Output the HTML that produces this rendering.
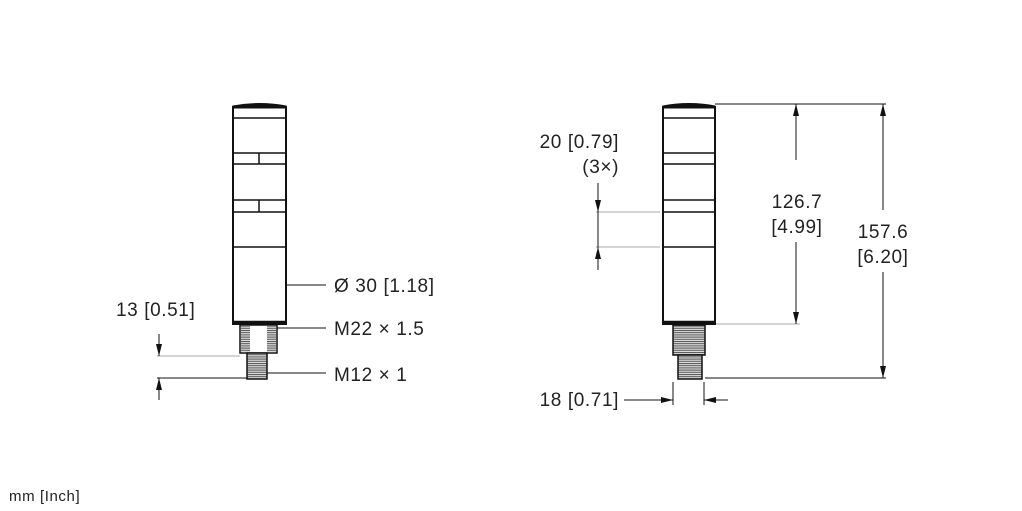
<!DOCTYPE html>
<html><head><meta charset="utf-8"><style>
html,body{margin:0;padding:0;background:#fff;}
svg{display:block;}
text{font-family:"Liberation Sans",sans-serif;fill:#222;letter-spacing:0.6px;}
</style></head><body>
<svg width="1022" height="511" viewBox="0 0 1022 511" xmlns="http://www.w3.org/2000/svg">
<defs>
<pattern id="th" width="4" height="2.2" patternUnits="userSpaceOnUse">
<rect width="4" height="2.2" fill="#ddd"/><rect y="0" width="4" height="1" fill="#555"/>
</pattern>
<marker id="ar" markerWidth="12" markerHeight="8" refX="12" refY="4" orient="auto" markerUnits="userSpaceOnUse">
<path d="M0,1 L12,4 L0,7 Z" fill="#111"/></marker>
</defs>

<g stroke="#111" fill="none">
<path d="M233,106 Q259,101 286,106 L286,108 L233,108 Z" fill="#111" stroke-width="1"/>
<rect x="233" y="107" width="53" height="217" stroke-width="2"/>
<line x1="233" y1="118" x2="286" y2="118" stroke-width="1.5"/>
<line x1="233" y1="153" x2="286" y2="153" stroke-width="1.5"/>
<line x1="233" y1="164" x2="286" y2="164" stroke-width="1.5"/>
<line x1="259" y1="153" x2="259" y2="164" stroke-width="1.5"/>
<line x1="233" y1="200" x2="286" y2="200" stroke-width="1.5"/>
<line x1="233" y1="212" x2="286" y2="212" stroke-width="1.5"/>
<line x1="259" y1="200" x2="259" y2="212" stroke-width="1.5"/>
<line x1="233" y1="247" x2="286" y2="247" stroke-width="1.5"/>
<line x1="233" y1="322" x2="286" y2="322" stroke-width="2.5"/>
<rect x="240" y="325" width="37" height="28" fill="#fff" stroke-width="1.5"/>
<rect x="241" y="326" width="9" height="26" fill="url(#th)" stroke="none"/>
<rect x="267" y="326" width="9" height="26" fill="url(#th)" stroke="none"/>
<rect x="247" y="353" width="20" height="26" fill="url(#th)" stroke-width="1.5"/>
</g>
<g stroke="#111" stroke-width="1" fill="none">
<line x1="287" y1="285" x2="326" y2="285"/>
<line x1="277" y1="328" x2="326" y2="328"/>
<line x1="267" y1="373" x2="326" y2="373"/>
<line x1="157" y1="356" x2="240" y2="356" stroke="#aaa"/>
<line x1="157" y1="378" x2="247" y2="378"/>
<line x1="159" y1="334" x2="159" y2="356" marker-end="url(#ar)"/>
<line x1="159" y1="400" x2="159" y2="378" marker-end="url(#ar)"/>
</g>
<text x="334" y="292" font-size="19">Ø 30 [1.18]</text>
<text x="334" y="335" font-size="19">M22 × 1.5</text>
<text x="334" y="381" font-size="19">M12 × 1</text>
<text x="116" y="316" font-size="19">13 [0.51]</text>

<g stroke="#111" fill="none">
<path d="M663,106 Q689,101 715,106 L715,108 L663,108 Z" fill="#111" stroke-width="1"/>
<rect x="663" y="107" width="52" height="217" stroke-width="2"/>
<line x1="663" y1="118" x2="715" y2="118" stroke-width="1.5"/>
<line x1="663" y1="153" x2="715" y2="153" stroke-width="1.5"/>
<line x1="663" y1="164" x2="715" y2="164" stroke-width="1.5"/>
<line x1="663" y1="200" x2="715" y2="200" stroke-width="1.5"/>
<line x1="663" y1="212" x2="715" y2="212" stroke-width="1.5"/>
<line x1="663" y1="247" x2="715" y2="247" stroke-width="1.5"/>
<line x1="663" y1="322" x2="715" y2="322" stroke-width="2.5"/>
<rect x="673" y="325" width="32" height="30" fill="url(#th)" stroke-width="1.5"/>
<rect x="678" y="355" width="24" height="24" fill="url(#th)" stroke-width="1.5"/>
</g>
<g stroke="#111" stroke-width="1" fill="none">
<line x1="715" y1="104" x2="886" y2="104"/>
<line x1="716" y1="324" x2="800" y2="324" stroke="#aaa"/>
<line x1="705" y1="378" x2="886" y2="378"/>
<line x1="796" y1="160" x2="796" y2="104" marker-end="url(#ar)"/>
<line x1="796" y1="242" x2="796" y2="324" marker-end="url(#ar)"/>
<line x1="883" y1="210" x2="883" y2="104" marker-end="url(#ar)"/>
<line x1="883" y1="272" x2="883" y2="378" marker-end="url(#ar)"/>
<line x1="596" y1="212" x2="660" y2="212" stroke="#aaa"/>
<line x1="596" y1="247" x2="660" y2="247" stroke="#aaa"/>
<line x1="598" y1="247" x2="598" y2="212"/>
<line x1="598" y1="183" x2="598" y2="212" marker-end="url(#ar)"/>
<line x1="598" y1="270" x2="598" y2="247" marker-end="url(#ar)"/>
<line x1="673" y1="382" x2="673" y2="405"/>
<line x1="704" y1="382" x2="704" y2="405"/>
<line x1="624" y1="400" x2="673" y2="400" marker-end="url(#ar)"/>
<line x1="728" y1="400" x2="704" y2="400" marker-end="url(#ar)"/>
</g>
<text x="797" y="208" font-size="19" text-anchor="middle">126.7</text>
<text x="797" y="233" font-size="19" text-anchor="middle">[4.99]</text>
<text x="883" y="238" font-size="19" text-anchor="middle">157.6</text>
<text x="883" y="263" font-size="19" text-anchor="middle">[6.20]</text>
<text x="619" y="148" font-size="19" text-anchor="end">20 [0.79]</text>
<text x="619" y="173" font-size="19" text-anchor="end">(3×)</text>
<text x="619" y="406" font-size="19" text-anchor="end">18 [0.71]</text>
<text x="9" y="501" font-size="15">mm [Inch]</text>
</svg>
</body></html>
